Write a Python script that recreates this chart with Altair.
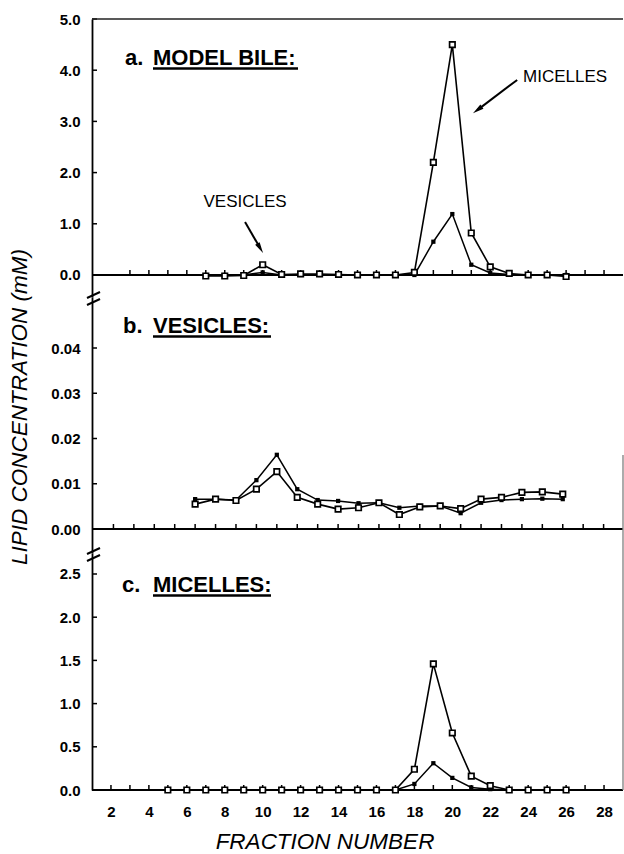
import altair as alt
import pandas as pd

# ---------------- data ----------------
fractions_a = [7, 8, 9, 10, 11, 12, 13, 14, 15, 16, 17, 18, 19, 20, 21, 22, 23, 24, 25, 26]
model_bile_open = [-0.02, -0.02, -0.01, 0.20, 0.01, 0.02, 0.02, 0.01, 0.0, 0.0,
                   0.0, 0.05, 2.20, 4.50, 0.82, 0.16, 0.03, 0.0, 0.0, -0.03]
model_bile_filled = [0.0, 0.0, 0.0, 0.05, 0.0, 0.0, 0.0, 0.0, 0.0, 0.0,
                     0.0, 0.0, 0.65, 1.19, 0.20, 0.04, 0.01, 0.0, 0.0, 0.0]

fractions_b = [7, 8, 9, 10, 11, 12, 13, 14, 15, 16, 17, 18, 19, 20, 21, 22, 23, 24, 25]
vesicles_open = [0.0055, 0.0066, 0.0063, 0.0088, 0.0127, 0.0070, 0.0055, 0.0044, 0.0047, 0.0058,
                 0.0032, 0.0049, 0.0051, 0.0045, 0.0066, 0.0070, 0.0081, 0.0082, 0.0077]
vesicles_filled = [0.0066, 0.0066, 0.0064, 0.0108, 0.0164, 0.0088, 0.0064, 0.0062, 0.0057, 0.0058,
                   0.0047, 0.0051, 0.0051, 0.0035, 0.0058, 0.0064, 0.0066, 0.0067, 0.0066]

fractions_c = [5, 6, 7, 8, 9, 10, 11, 12, 13, 14, 15, 16, 17, 18, 19, 20, 21, 22, 23, 24, 25, 26]
micelles_open = [0.0, 0.0, 0.0, 0.0, 0.0, 0.0, 0.0, 0.0, 0.0, 0.0, 0.0, 0.0, 0.0,
                 0.24, 1.46, 0.66, 0.16, 0.05, 0.0, 0.0, 0.0, 0.0]
micelles_filled = [0.0, 0.0, 0.0, 0.0, 0.0, 0.0, 0.0, 0.0, 0.0, 0.0, 0.0, 0.0, 0.0,
                   0.07, 0.31, 0.14, 0.03, 0.01, 0.0, 0.0, 0.0, 0.0]

yticks_a = [0, 1, 2, 3, 4, 5]
yticks_b = [0, 0.01, 0.02, 0.03, 0.04]
yticks_c = [0, 0.5, 1.0, 1.5, 2.0, 2.5]
xticks_a = [3, 4, 5, 6, 7, 8, 9, 10, 11, 12, 13, 14, 15, 16, 17, 18, 19, 20, 21, 22, 23, 24, 25, 26, 27, 28]
xticks_b = [3, 4, 5, 6, 7, 8, 9, 10, 11, 12, 13, 14, 15, 16, 17, 18, 19, 20, 21, 22, 23, 24, 25, 26, 27]
xticks_c = [2, 3, 4, 5, 6, 7, 8, 9, 10, 11, 12, 13, 14, 15, 16, 17, 18, 19, 20, 21, 22, 23, 24, 25, 26, 27, 28]
xlabels_c = [2, 4, 6, 8, 10, 12, 14, 16, 18, 20, 22, 24, 26, 28]

# annotations (panel a, data coordinates)
ann_labels = ["VESICLES", "MICELLES"]
ann_x = [9.07, 25.95]
ann_y = [1.43, 3.87]
arrow_x = [9.07, 23.42]
arrow_y = [1.035, 3.81]
arrow_x2 = [9.86, 21.35]
arrow_y2 = [0.53, 3.23]
head_x = [10.02, 21.09]
head_y = [0.43, 3.16]
head_angle = [149, 234]

# ---------------- layout ----------------
W, H = 531, 771
FONT = "Liberation Sans"


def panel(fracs, open_vals, filled_vals, ydom, yrange, xdom, yticks, yfmt,
          xticks, xlabels=None, extra=None):
    df_o = pd.DataFrame({"fraction": fracs, "value": open_vals})
    df_f = pd.DataFrame({"fraction": fracs, "value": filled_vals})
    xs = alt.Scale(domain=xdom, nice=False, zero=False)
    ys = alt.Scale(domain=ydom, range=yrange, nice=False, zero=False)
    if xlabels is not None:
        xaxis = alt.Axis(values=xlabels, format="d", ticks=False, tickSize=0, domain=False,
                         grid=False, labelPadding=14, labelFont=FONT, labelFontSize=15,
                         labelFontWeight="bold", labelColor="black", title=None)
    else:
        xaxis = None
    yaxis = alt.Axis(orient="left", values=yticks, format=yfmt, ticks=False, tickSize=0,
                     grid=False, domain=True, domainColor="black", domainWidth=1.8,
                     labelPadding=12, labelFont=FONT, labelFontSize=15,
                     labelFontWeight="bold", labelColor="black", title=None)
    X = alt.X("fraction:Q", scale=xs, axis=xaxis)
    Y = alt.Y("value:Q", scale=ys, axis=yaxis)

    base_line = alt.Chart(pd.DataFrame({"value": [0]})).mark_rule(
        color="black", strokeWidth=1.8).encode(x=alt.value(0), x2=alt.value(W), y=Y)
    xt = alt.Chart(pd.DataFrame({"fraction": xticks, "value": [0] * len(xticks)})).mark_rule(
        color="black", strokeWidth=1.5, y2Offset=-5).encode(x=X, y=Y, y2=alt.Y2("value"))
    yt = alt.Chart(pd.DataFrame({"value": yticks})).mark_rule(
        color="black", strokeWidth=1.5).encode(x=alt.value(0), x2=alt.value(5), y=Y)
    line_f = alt.Chart(df_f).mark_line(color="black", strokeWidth=1.5).encode(x=X, y=Y)
    line_o = alt.Chart(df_o).mark_line(color="black", strokeWidth=1.6).encode(x=X, y=Y)
    pt_f = alt.Chart(df_f).mark_point(shape="square", filled=True, color="black",
                                      size=18, opacity=1).encode(x=X, y=Y)
    pt_o = alt.Chart(df_o).mark_point(shape="square", filled=True, fill="white",
                                      stroke="black", strokeWidth=1.7, size=30,
                                      opacity=1).encode(x=X, y=Y)
    layers = [base_line, xt, yt, line_f, line_o, pt_f, pt_o]
    if extra is not None:
        layers += extra(X, Y)
    return alt.layer(*layers)


def annotations_a(X, Y):
    tdf = pd.DataFrame({"fraction": ann_x, "value": ann_y, "label": ann_labels})
    txt = alt.Chart(tdf).mark_text(font=FONT, fontSize=17, color="black",
                                   align="center", baseline="middle").encode(
        x=X, y=Y, text="label:N")
    adf = pd.DataFrame({"fraction": arrow_x, "value": arrow_y,
                        "fraction2": arrow_x2, "value2": arrow_y2})
    arr = alt.Chart(adf).mark_rule(color="black", strokeWidth=2).encode(
        x=X, y=Y, x2=alt.X2("fraction2"), y2=alt.Y2("value2"))
    hdf = pd.DataFrame({"fraction": head_x, "value": head_y, "angle": head_angle})
    head = alt.Chart(hdf).mark_point(shape="M0,0L-0.38,1.6L0.38,1.6Z", filled=True,
                                     color="black", size=190, opacity=1).encode(
        x=X, y=Y, angle=alt.Angle("angle:Q", scale=None))
    return [arr, head, txt]


pa = panel(fractions_a, model_bile_open, model_bile_filled, [-0.43, 5.0], [278, 0],
           [1, 29], yticks_a, ".1f", xticks_a, extra=annotations_a)
pb = panel(fractions_b, vesicles_open, vesicles_filled, [-0.0053, 0.05127], [534, 278],
           [1.95, 27.95], yticks_b, ".2f", xticks_b)
pc = panel(fractions_c, micelles_open, micelles_filled, [0, 2.743], [771, 534],
           [1, 29], yticks_c, ".1f", xticks_c, xlabels=xlabels_c)

# ---------------- decorations (pixel coordinates) ----------------
letters = pd.DataFrame({"t": ["a.", "b.", "c."], "px": [33, 31, 30], "py": [46, 314, 573]})
titles = pd.DataFrame({"t": ["MODEL BILE:", "VESICLES:", "MICELLES:"],
                       "px": [61, 61, 61], "py": [46, 314, 573]})
underl = pd.DataFrame({"x1": [61, 61, 61], "x2": [206, 179, 179],
                       "y1": [49.5, 317.5, 576.5]})
breaks = pd.DataFrame({"x1": [-5, -5, -5, -5], "x2": [8, 8, 8, 8],
                       "y1": [279, 286, 535, 542], "y2": [273, 280, 529, 536]})
frame = pd.DataFrame({"x1": [0, 531], "x2": [531, 531], "y1": [0, 436], "y2": [0, 771],
                      "c": ["#222222", "#888888"]})

PX = alt.X("px:Q", scale=None)
PY = alt.Y("py:Q", scale=None)

t_letters = alt.Chart(letters).mark_text(font=FONT, fontSize=22, fontWeight="bold",
                                         color="black", align="left",
                                         baseline="alphabetic").encode(x=PX, y=PY, text="t:N")
t_titles = alt.Chart(titles).mark_text(font=FONT, fontSize=22, fontWeight="bold",
                                       color="black", align="left",
                                       baseline="alphabetic").encode(x=PX, y=PY, text="t:N")
r_under = alt.Chart(underl).mark_rule(color="black", strokeWidth=2.5).encode(
    x=alt.X("x1:Q", scale=None), x2="x2:Q", y=alt.Y("y1:Q", scale=None))
r_breaks = alt.Chart(breaks).mark_rule(color="black", strokeWidth=2).encode(
    x=alt.X("x1:Q", scale=None), x2="x2:Q", y=alt.Y("y1:Q", scale=None), y2="y2:Q")
r_frame = alt.Chart(frame).mark_rule(strokeWidth=1.4).encode(
    x=alt.X("x1:Q", scale=None), x2="x2:Q", y=alt.Y("y1:Q", scale=None), y2="y2:Q",
    color=alt.Color("c:N", scale=None))

axis_titles = pd.DataFrame({"t": ["LIPID CONCENTRATION (mM)", "FRACTION NUMBER"],
                            "px": [-72, 233], "py": [388, 823], "ang": [270, 0]})
t_axes = alt.Chart(axis_titles).mark_text(font=FONT, fontSize=22.5, fontStyle="italic",
                                          color="black", align="center",
                                          baseline="middle").encode(
    x=PX, y=PY, text="t:N", angle=alt.Angle("ang:Q", scale=None))

chart = alt.layer(pa, pb, pc, r_frame, r_breaks, r_under, t_letters, t_titles, t_axes).resolve_scale(
    x="independent", y="independent"
).properties(
    width=W, height=H,
    autosize=alt.AutoSizeParams(type="none"),
    padding={"left": 92, "top": 19, "right": 1, "bottom": 64},
    background="white",
).configure_view(strokeWidth=0)

chart.save("out.html", embed_options={"renderer": "svg", "actions": False})
